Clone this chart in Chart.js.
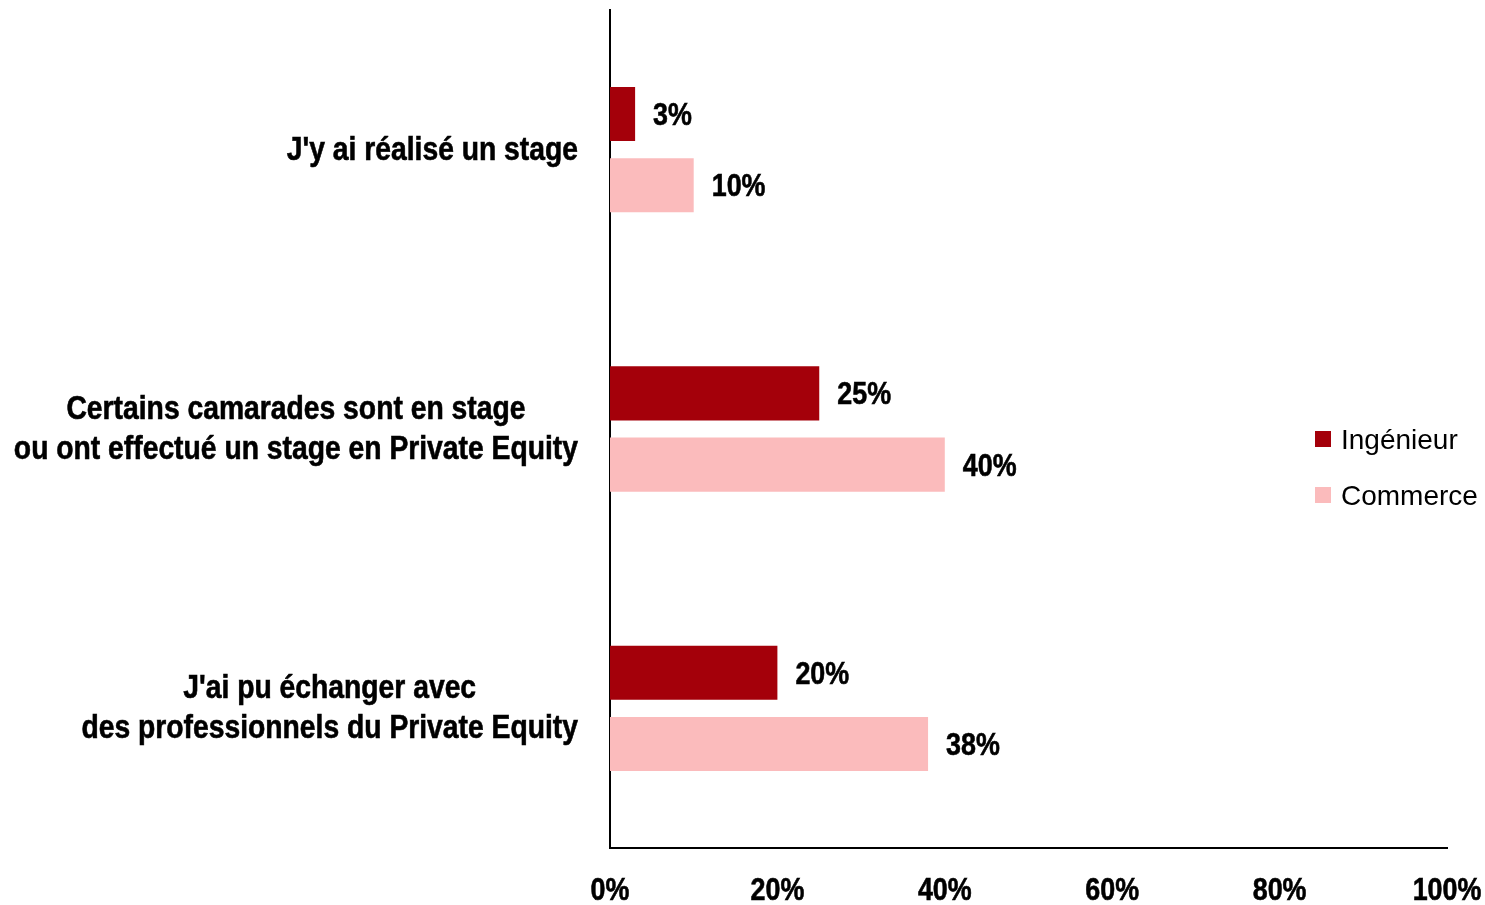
<!DOCTYPE html>
<html lang="fr">
<head>
<meta charset="utf-8">
<script src="https://cdn.jsdelivr.net/npm/chart.js@4.4.1/dist/chart.umd.min.js"></script>
<style>
  html, body { margin: 0; padding: 0; background: #fff; }
  #wrap { width: 1485px; height: 905px; position: relative; }
</style>
</head>
<body>
<div id="wrap"><canvas id="stageChart"></canvas></div>
<script>
  // categories (multi-line labels)
  const categories = [
    ["J'y ai réalisé un stage"],
    ['Certains camarades sont en stage', 'ou ont effectué un stage en Private Equity'],
    ["J'ai pu échanger avec", 'des professionnels du Private Equity']
  ];
  const seriesNames = ['Ingénieur', 'Commerce'];
  const ingenieur = [3, 25, 20];
  const commerce = [10, 40, 38];
  const xTicks = [0, 20, 40, 60, 80, 100];

  const SANS = "'Liberation Sans', Arial, sans-serif";

  // condensed text: Arial-like bold squeezed horizontally, slightly heavier
  function narrowText(ctx, text, x, y, size, squeeze, align) {
    ctx.save();
    ctx.font = 'bold ' + size + 'px ' + SANS;
    ctx.textAlign = align;
    ctx.textBaseline = 'alphabetic';
    ctx.translate(x, y);
    ctx.scale(squeeze, 1);
    ctx.lineWidth = 0.6;
    ctx.strokeStyle = '#000';
    ctx.fillText(text, 0, 0);
    ctx.strokeText(text, 0, 0);
    ctx.restore();
  }

  function narrowWidth(ctx, text, size, squeeze) {
    ctx.save();
    ctx.font = 'bold ' + size + 'px ' + SANS;
    const w = ctx.measureText(text).width * squeeze;
    ctx.restore();
    return w;
  }

  // axis labels drawn from the scales' own positions
  const axisLabels = {
    id: 'axisLabels',
    afterDraw(chart) {
      const ctx = chart.ctx;
      const xs = chart.scales.x;
      const ys = chart.scales.y;
      const size = 33, squeeze = 0.857;
      ctx.save();
      ctx.fillStyle = '#000';
      xTicks.forEach(function (v) {
        narrowText(ctx, v + '%', xs.getPixelForValue(v), 900, 32, 0.84, 'center');
      });
      // each label block sits right against the axis, its lines centred on each other
      chart.data.labels.forEach(function (lines, i) {
        const cy = ys.getPixelForValue(i);
        const first = cy + 10 - (lines.length - 1) * 20;
        const widest = Math.max.apply(null, lines.map(function (l) {
          return narrowWidth(ctx, l, size, squeeze);
        }));
        const cx = ys.right - 32 - widest / 2;
        lines.forEach(function (line, j) {
          narrowText(ctx, line, cx, first + j * 40, size, squeeze, 'center');
        });
      });
      ctx.restore();
    }
  };

  // value at the end of each bar
  const valueLabels = {
    id: 'valueLabels',
    afterDatasetsDraw(chart) {
      const ctx = chart.ctx;
      ctx.save();
      ctx.fillStyle = '#000';
      chart.data.datasets.forEach(function (ds, di) {
        chart.getDatasetMeta(di).data.forEach(function (bar, i) {
          narrowText(ctx, ds.data[i] + '%', bar.x + 18, bar.y + 11, 32, 0.84, 'left');
        });
      });
      ctx.restore();
    }
  };

  // legend on the right, overlapping the plot area
  const sideLegend = {
    id: 'sideLegend',
    afterDraw(chart) {
      const ctx = chart.ctx;
      ctx.save();
      ctx.font = '28px ' + SANS;
      ctx.textBaseline = 'alphabetic';
      ctx.textAlign = 'left';
      chart.data.datasets.forEach(function (ds, i) {
        const y = 439 + i * 56;
        ctx.fillStyle = ds.backgroundColor;
        ctx.fillRect(1315, y - 8, 16, 16);
        ctx.fillStyle = '#000';
        ctx.fillText(ds.label, 1341, y + 10);
      });
      ctx.restore();
    }
  };

  new Chart(document.getElementById('stageChart'), {
    type: 'bar',
    data: {
      labels: categories,
      datasets: [
        { label: seriesNames[0], data: ingenieur, backgroundColor: '#A4000A' },
        { label: seriesNames[1], data: commerce, backgroundColor: '#FBBBBC' }
      ]
    },
    options: {
      indexAxis: 'y',
      responsive: true,
      maintainAspectRatio: false,
      animation: false,
      categoryPercentage: 0.51,
      barPercentage: 0.76,
      layout: { padding: { top: 10, right: 38, bottom: 0, left: 0 } },
      plugins: {
        legend: { display: false },
        tooltip: { enabled: false }
      },
      scales: {
        x: {
          min: 0,
          max: 100,
          afterBuildTicks: function (scale) {
            scale.ticks = xTicks.map(function (v) { return { value: v }; });
          },
          afterFit: function (scale) {
            scale.height = 57;
            scale.paddingLeft = 0;
            scale.paddingRight = 0;
          },
          grid: { display: false, drawTicks: false },
          border: { display: true, color: '#000', width: 2 },
          ticks: { display: false }
        },
        y: {
          afterFit: function (scale) {
            scale.width = 610;
            scale.paddingTop = 0;
            scale.paddingBottom = 0;
          },
          grid: { display: false, drawTicks: false },
          border: { display: true, color: '#000', width: 2 },
          ticks: { display: false }
        }
      }
    },
    plugins: [valueLabels, axisLabels, sideLegend]
  });
</script>
</body>
</html>
